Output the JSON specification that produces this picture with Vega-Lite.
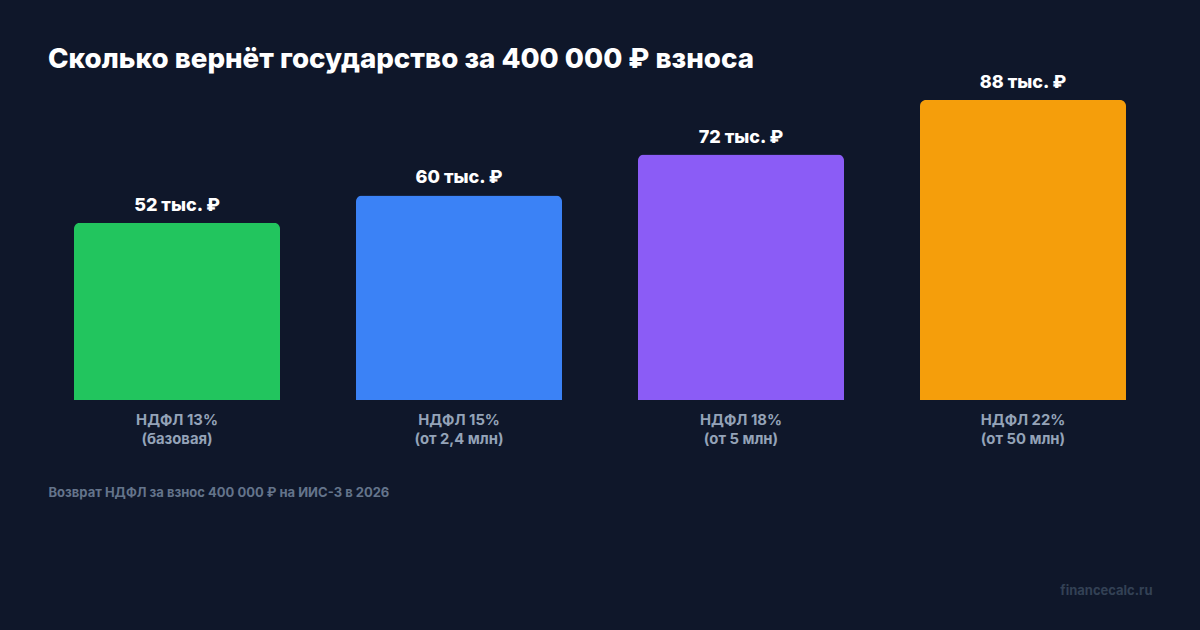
{
  "$schema": "https://vega.github.io/schema/vega-lite/v6.json",
  "autosize": "none",
  "width": 1104,
  "height": 300,
  "padding": {"left": 48, "right": 48, "top": 100, "bottom": 230},
  "background": "#0f172a",
  "title": {
    "text": "Сколько вернёт государство за 400 000 ₽ взноса",
    "anchor": "start",
    "frame": "group",
    "font": "Inter",
    "fontSize": 27.7,
    "fontWeight": 800,
    "color": "#ffffff",
    "offset": 0
  },
  "data": {
    "values": [
      {"cat": "НДФЛ 13%|(базовая)", "value": 52, "label": "52 тыс. ₽", "color": "#22c55e"},
      {"cat": "НДФЛ 15%|(от 2,4 млн)", "value": 60, "label": "60 тыс. ₽", "color": "#3b82f6"},
      {"cat": "НДФЛ 18%|(от 5 млн)", "value": 72, "label": "72 тыс. ₽", "color": "#8b5cf6"},
      {"cat": "НДФЛ 22%|(от 50 млн)", "value": 88, "label": "88 тыс. ₽", "color": "#f59e0b"}
    ]
  },
  "encoding": {
    "x": {
      "field": "cat",
      "type": "nominal",
      "sort": null,
      "scale": {"paddingInner": 0.2695, "paddingOuter": 0.0922},
      "axis": {
        "domain": false,
        "ticks": false,
        "grid": false,
        "labelAngle": 0,
        "labelExpr": "split(datum.label, '|')",
        "labelFont": "Inter",
        "labelFontSize": 14.8,
        "labelFontWeight": "bold",
        "labelColor": "#94a3b8",
        "labelLineHeight": 19,
        "labelPadding": 12,
        "title": "Возврат НДФЛ за взнос 400 000 ₽ на ИИС-3 в 2026",
        "titleFont": "Inter",
        "titleFontSize": 13,
        "titleFontWeight": "bold",
        "titleColor": "#64748b",
        "titleAnchor": "start",
        "titleAlign": "left",
        "titleBaseline": "middle",
        "titleX": 0,
        "titleY": 92
      }
    },
    "y": {
      "field": "value",
      "type": "quantitative",
      "scale": {"domain": [0, 88], "nice": false},
      "axis": {
        "orient": "right",
        "domain": false,
        "ticks": false,
        "labels": false,
        "grid": false,
        "title": "financecalc.ru",
        "titleFont": "Inter",
        "titleFontSize": 13,
        "titleFontWeight": "bold",
        "titleColor": "#334155",
        "titleAngle": 0,
        "titleAlign": "right",
        "titleBaseline": "middle",
        "titleX": 0,
        "titleY": 490
      }
    }
  },
  "layer": [
    {
      "mark": {"type": "bar", "cornerRadiusTopLeft": 6, "cornerRadiusTopRight": 6},
      "encoding": {
        "color": {"field": "color", "type": "nominal", "scale": null}
      }
    },
    {
      "mark": {"type": "text", "font": "Inter", "fontSize": 18, "fontWeight": 800, "color": "#ffffff", "baseline": "alphabetic", "dy": -12},
      "encoding": {
        "text": {"field": "label"}
      }
    }
  ],
  "config": {"view": {"stroke": null}}
}
